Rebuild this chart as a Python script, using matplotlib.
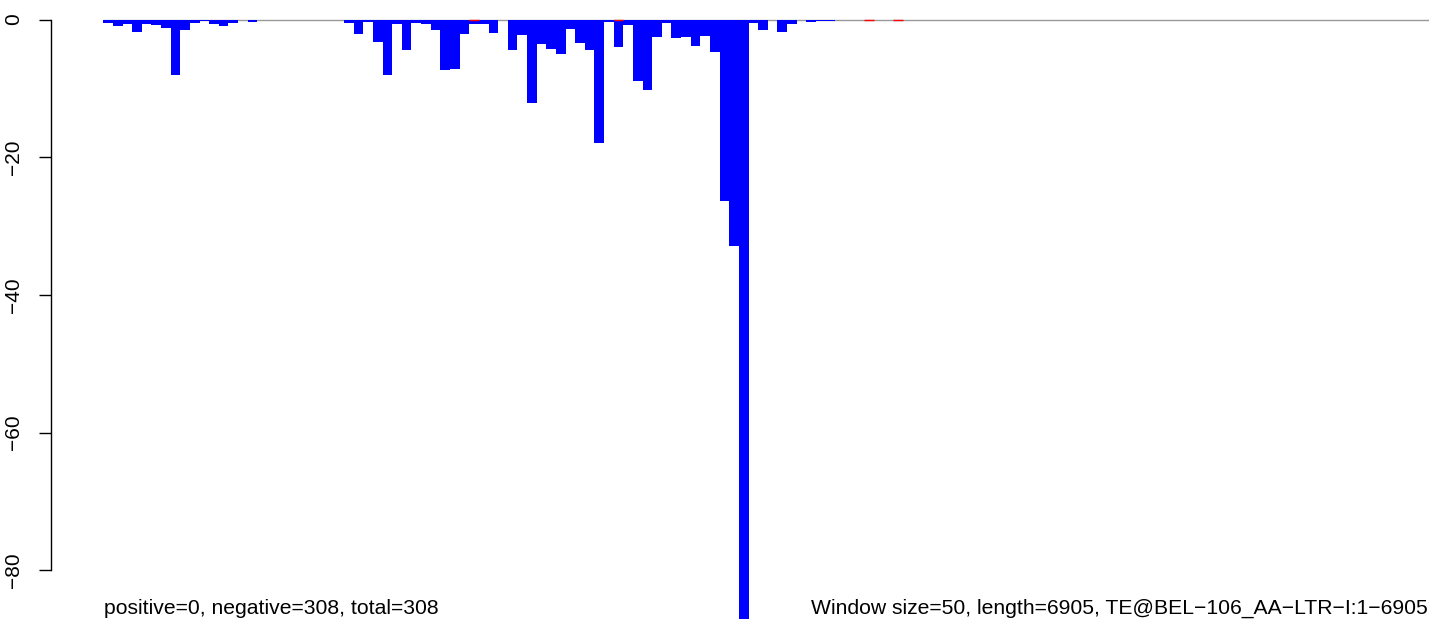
import numpy as np
import matplotlib
matplotlib.use("Agg")
import matplotlib.pyplot as plt

plt.rcParams['font.family'] = ['Liberation Sans', 'DejaVu Sans']

# Negative-strand values per 50-nt window (139 windows)
neg_values = [
    -0.45, -0.9, -0.6, -1.8, -0.6, -0.75, -1.2, -8.0, -1.5, -0.45,
    -0.15, -0.6, -0.9, -0.45, 0, -0.3, 0, 0, 0, 0,
    0, 0, 0, 0, 0, -0.45, -2.05, -0.35, -3.2, -8.05,
    -0.65, -4.4, -0.5, -0.65, -1.5, -7.3, -7.15, -2.05, -0.7, -0.6,
    -1.9, 0, -4.5, -2.2, -12.1, -3.5, -4.25, -4.95, -1.35, -3.35,
    -4.4, -17.9, -0.3, -3.95, -0.75, -9.0, -10.2, -2.5, -0.45, -2.65,
    -2.5, -3.8, -2.35, -4.7, -26.3, -32.85, -88.0, -0.45, -1.5, 0,
    -1.75, -0.6, 0, -0.3, -0.15, -0.15, 0, 0, 0, 0,
    0, 0, 0, 0, 0, 0, 0, 0, 0, 0,
    0, 0, 0, 0, 0, 0, 0, 0, 0, 0,
    0, 0, 0, 0, 0, 0, 0, 0, 0, 0,
    0, 0, 0, 0, 0, 0, 0, 0, 0, 0,
    0, 0, 0, 0, 0, 0, 0, 0, 0, 0,
    0, 0, 0, 0, 0, 0, 0, 0, 0,
]
# windows where a zero-height positive-strand bar is drawn (red)
pos_bins = [38, 53, 79, 82]
pos_values = [0, 0, 0, 0]

yticks = [0, -20, -40, -60, -80]
left_text = "positive=0, negative=308, total=308"
right_text = "Window size=50, length=6905, TE@BEL\u2212106_AA\u2212LTR\u2212I:1\u22126905"

W, H = 1429, 619
fig = plt.figure(figsize=(W / 100, H / 100), dpi=100)

x0_px, bw_px = 103.3, 9.63
ax_left_px = 51
y0_px, py_per_unit = 19.5, 6.885

ax = fig.add_axes([ax_left_px / W, 0, (W - ax_left_px) / W, 1])
n = len(neg_values)
x = np.arange(n)
ax.hlines(0, 0, n, color='#999999', lw=1.0, zorder=1)
ax.bar(x, neg_values, width=1.0, align='edge', color='#0000ff', linewidth=0, zorder=2)
for b, v in zip(pos_bins, pos_values):
    ax.hlines(v, b, b + 1, color='#ff0000', lw=1.0, zorder=3)

ax.set_xlim(-(x0_px - ax_left_px) / bw_px, (W - x0_px) / bw_px)
ax.set_ylim(-(H - y0_px) / py_per_unit, y0_px / py_per_unit)

for s in ['top', 'right', 'bottom']:
    ax.spines[s].set_visible(False)
ax.spines['left'].set_bounds(-80, 0)
ax.spines['left'].set_linewidth(1.0)
ax.set_xticks([])
ax.set_yticks(yticks)
ax.set_yticklabels([str(t).replace('-', '\u2212') for t in yticks], rotation=90,
                   va='center', fontsize=15)
ax.tick_params(axis='y', length=9, width=1.0, pad=11)
ax.patch.set_alpha(0)

fig.text(104 / W, 1 - 614 / H, left_text, fontsize=15.2, va='baseline', ha='left')
fig.text(811 / W, 1 - 614 / H, right_text, fontsize=15.2, va='baseline', ha='left')

fig.savefig('out.png', dpi=100)
